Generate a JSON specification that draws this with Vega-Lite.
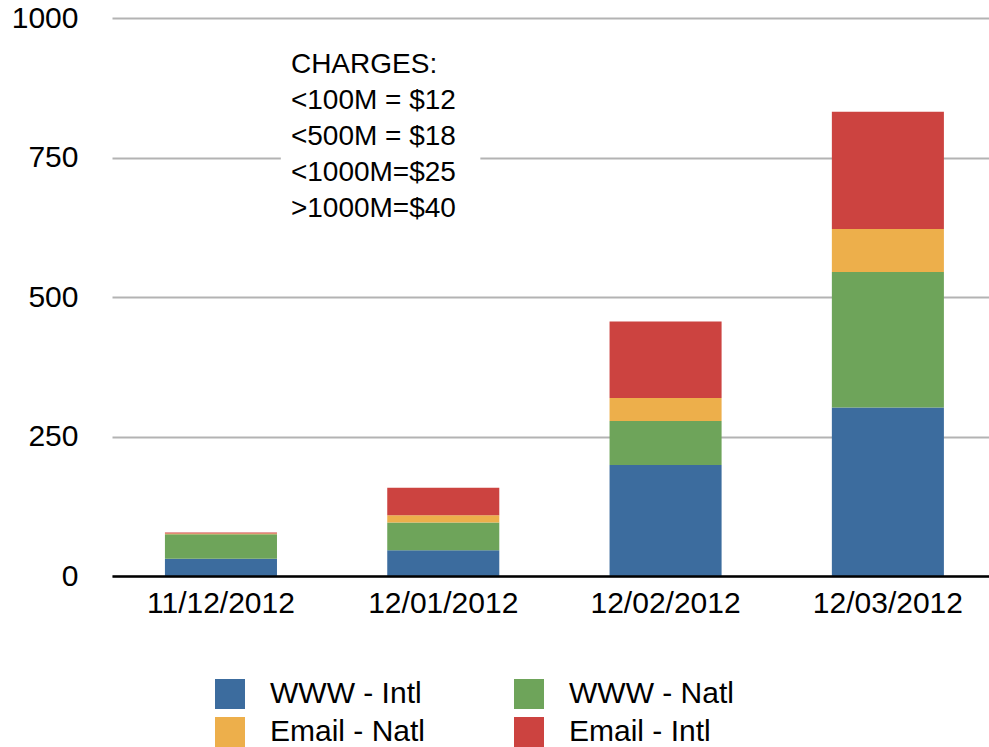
{
  "$schema": "https://vega.github.io/schema/vega-lite/v6.json",
  "autosize": "none",
  "width": 877,
  "height": 558,
  "padding": {"left": 112, "top": 18, "right": 0, "bottom": 171},
  "background": "white",
  "config": {
    "view": {"stroke": null},
    "font": "Liberation Sans",
    "axis": {"labelFont": "Liberation Sans", "labelColor": "#000000"},
    "legend": {"labelFont": "Liberation Sans"}
  },
  "resolve": {"scale": {"x": "independent"}, "axis": {"x": "independent"}},
  "layer": [
    {
      "data": {
        "values": [
          {"date": "11/12/2012", "series": "WWW - Intl", "k": 1, "value": 31},
          {"date": "11/12/2012", "series": "WWW - Natl", "k": 2, "value": 44},
          {"date": "11/12/2012", "series": "Email - Natl", "k": 3, "value": 1},
          {"date": "11/12/2012", "series": "Email - Intl", "k": 4, "value": 2},
          {"date": "12/01/2012", "series": "WWW - Intl", "k": 1, "value": 46},
          {"date": "12/01/2012", "series": "WWW - Natl", "k": 2, "value": 50},
          {"date": "12/01/2012", "series": "Email - Natl", "k": 3, "value": 13},
          {"date": "12/01/2012", "series": "Email - Intl", "k": 4, "value": 49},
          {"date": "12/02/2012", "series": "WWW - Intl", "k": 1, "value": 199},
          {"date": "12/02/2012", "series": "WWW - Natl", "k": 2, "value": 79},
          {"date": "12/02/2012", "series": "Email - Natl", "k": 3, "value": 41},
          {"date": "12/02/2012", "series": "Email - Intl", "k": 4, "value": 137},
          {"date": "12/03/2012", "series": "WWW - Intl", "k": 1, "value": 302},
          {"date": "12/03/2012", "series": "WWW - Natl", "k": 2, "value": 243},
          {"date": "12/03/2012", "series": "Email - Natl", "k": 3, "value": 77},
          {"date": "12/03/2012", "series": "Email - Intl", "k": 4, "value": 210}
        ]
      },
      "mark": {"type": "bar"},
      "encoding": {
        "x": {
          "field": "date",
          "type": "nominal",
          "sort": null,
          "scale": {"paddingInner": 0.496, "paddingOuter": 0.2205, "align": 0.54},
          "axis": {
            "title": null,
            "labelAngle": 0,
            "labelFontSize": 30,
            "labelPadding": 12,
            "ticks": false,
            "domain": true,
            "domainColor": "#000000",
            "domainWidth": 2.5,
            "zindex": 1,
            "grid": false
          }
        },
        "y": {
          "field": "value",
          "type": "quantitative",
          "aggregate": "sum",
          "stack": "zero",
          "scale": {"domain": [0, 1000], "nice": false},
          "axis": {
            "title": null,
            "values": [0, 250, 500, 750, 1000],
            "format": "d",
            "labelFontSize": 30,
            "labelPadding": 34,
            "ticks": false,
            "tickSize": 0,
            "domain": false,
            "grid": true,
            "gridColor": "#b3b3b3",
            "gridWidth": 2
          }
        },
        "order": {"field": "k", "type": "quantitative", "aggregate": "min"},
        "color": {
          "field": "series",
          "type": "nominal",
          "sort": ["WWW - Intl", "WWW - Natl", "Email - Natl", "Email - Intl"],
          "scale": {
            "domain": ["WWW - Intl", "WWW - Natl", "Email - Natl", "Email - Intl"],
            "range": ["#3c6c9e", "#6ea45a", "#edaf4b", "#cc4340"]
          },
          "legend": {
            "title": null,
            "orient": "none",
            "legendX": 103,
            "legendY": 661,
            "columns": 2,
            "direction": "horizontal",
            "padding": 0,
            "symbolType": "square",
            "symbolSize": 900,
            "symbolStrokeWidth": 0,
            "symbolOpacity": 1,
            "labelFontSize": 30,
            "labelOffset": 25,
            "labelLimit": 400,
            "columnPadding": 79,
            "rowPadding": 8,
            "gridAlign": "all",
            "labelColor": "#000000"
          }
        }
      }
    },
    {
      "data": {"values": [{}]},
      "mark": {"type": "rect", "color": "white"},
      "encoding": {
        "x": {"datum": 0.77, "type": "quantitative", "scale": {"domain": [0, 4], "nice": false}, "axis": null},
        "x2": {"datum": 1.68},
        "y": {"datum": 960, "type": "quantitative"},
        "y2": {"datum": 620}
      }
    },
    {
      "data": {"values": [{}]},
      "mark": {
        "type": "text",
        "align": "left",
        "baseline": "top",
        "fontSize": 28,
        "lineHeight": 36,
        "color": "#000000",
        "font": "Liberation Sans"
      },
      "encoding": {
        "x": {"datum": 0.816, "type": "quantitative", "scale": {"domain": [0, 4], "nice": false}, "axis": null},
        "y": {"datum": 940, "type": "quantitative"},
        "text": {"value": ["CHARGES:", "<100M = $12", "<500M = $18", "<1000M=$25", ">1000M=$40"]}
      }
    }
  ]
}
